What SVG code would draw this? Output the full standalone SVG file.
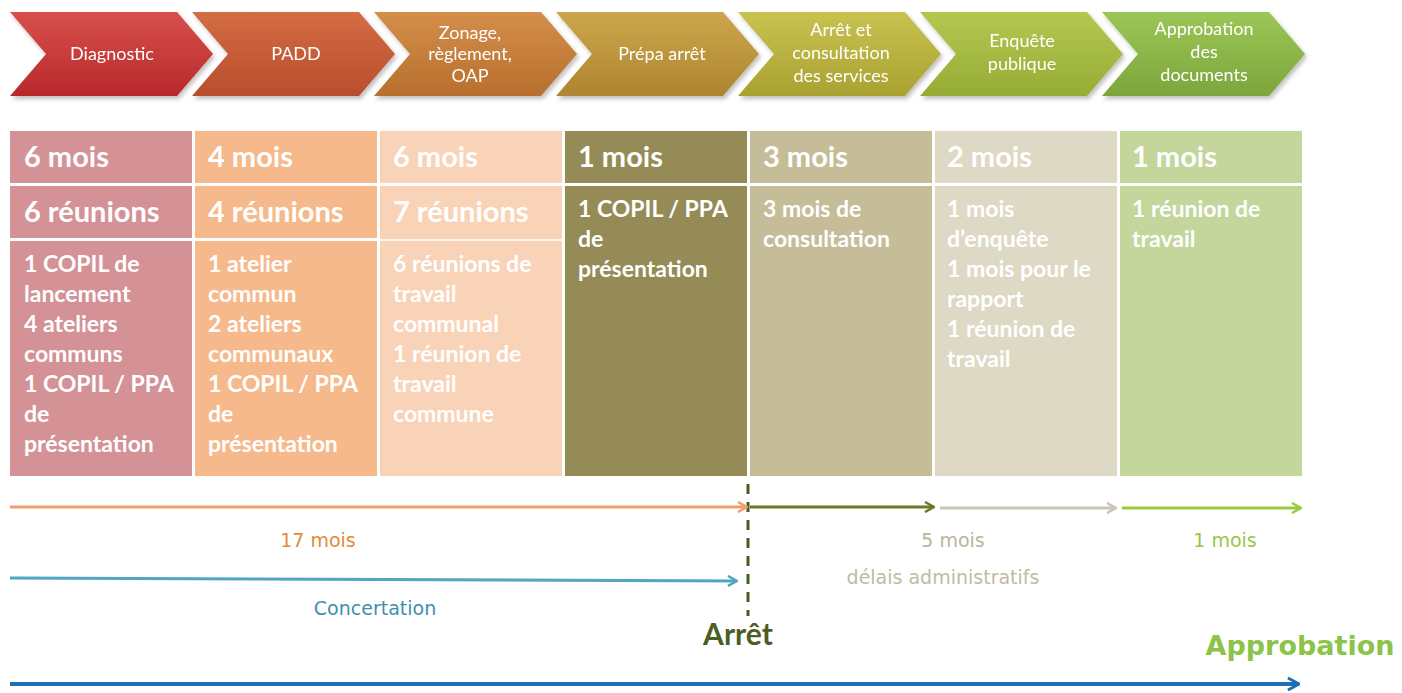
<svg xmlns="http://www.w3.org/2000/svg" width="1402" height="693" viewBox="0 0 1402 693">
<style>
.chev-t{font-family:Lato,"Liberation Sans",sans-serif;font-size:18px;fill:#ffffff;text-anchor:middle}
.hd{font-family:Lato,"Liberation Sans",sans-serif;font-size:29px;font-weight:bold;fill:#ffffff}
.bd{font-family:Lato,"Liberation Sans",sans-serif;font-size:23px;font-weight:bold;fill:#ffffff}
.lbl{font-family:"DejaVu Sans",sans-serif;font-size:19px;text-anchor:middle}
.sep{stroke:#ffffff;stroke-width:3}
</style>
<defs>
<filter id="sh" x="-10%" y="-10%" width="120%" height="130%">
<feDropShadow dx="2" dy="3" stdDeviation="2" flood-color="#000000" flood-opacity="0.25"/>
</filter>
<linearGradient id="g1" x1="0" y1="0" x2="0" y2="1"><stop offset="0" stop-color="#d8504c"/><stop offset="1" stop-color="#b7282b"/></linearGradient>
<linearGradient id="g2" x1="0" y1="0" x2="0" y2="1"><stop offset="0" stop-color="#d46c44"/><stop offset="1" stop-color="#b84e2c"/></linearGradient>
<linearGradient id="g3" x1="0" y1="0" x2="0" y2="1"><stop offset="0" stop-color="#d48e4a"/><stop offset="1" stop-color="#b86f2e"/></linearGradient>
<linearGradient id="g4" x1="0" y1="0" x2="0" y2="1"><stop offset="0" stop-color="#cca64c"/><stop offset="1" stop-color="#ae8530"/></linearGradient>
<linearGradient id="g5" x1="0" y1="0" x2="0" y2="1"><stop offset="0" stop-color="#c8c250"/><stop offset="1" stop-color="#a9a232"/></linearGradient>
<linearGradient id="g6" x1="0" y1="0" x2="0" y2="1"><stop offset="0" stop-color="#b4c850"/><stop offset="1" stop-color="#96ac34"/></linearGradient>
<linearGradient id="g7" x1="0" y1="0" x2="0" y2="1"><stop offset="0" stop-color="#9cc656"/><stop offset="1" stop-color="#7ca63c"/></linearGradient>
<marker id="mOr" viewBox="0 0 12 12" refX="11" refY="6" markerWidth="12" markerHeight="12" markerUnits="userSpaceOnUse" orient="auto"><path d="M2,1 L11,6 L2,11" fill="none" stroke="#f0a06c" stroke-width="2.5" stroke-linejoin="round"/></marker>
<marker id="mOl" viewBox="0 0 12 12" refX="11" refY="6" markerWidth="12" markerHeight="12" markerUnits="userSpaceOnUse" orient="auto"><path d="M2,1 L11,6 L2,11" fill="none" stroke="#6b7a28" stroke-width="2.5" stroke-linejoin="round"/></marker>
<marker id="mGr" viewBox="0 0 12 12" refX="11" refY="6" markerWidth="12" markerHeight="12" markerUnits="userSpaceOnUse" orient="auto"><path d="M2,1 L11,6 L2,11" fill="none" stroke="#c9c5b2" stroke-width="2.5" stroke-linejoin="round"/></marker>
<marker id="mGn" viewBox="0 0 12 12" refX="11" refY="6" markerWidth="12" markerHeight="12" markerUnits="userSpaceOnUse" orient="auto"><path d="M2,1 L11,6 L2,11" fill="none" stroke="#9acb3e" stroke-width="2.5" stroke-linejoin="round"/></marker>
<marker id="mTl" viewBox="0 0 12 12" refX="11" refY="6" markerWidth="12" markerHeight="12" markerUnits="userSpaceOnUse" orient="auto"><path d="M2,1 L11,6 L2,11" fill="none" stroke="#52a6c0" stroke-width="2.5" stroke-linejoin="round"/></marker>
<marker id="mBl" viewBox="0 0 14 14" refX="13" refY="7" markerWidth="14" markerHeight="14" markerUnits="userSpaceOnUse" orient="auto"><path d="M2,1 L13,7 L2,13" fill="none" stroke="#1f6fb6" stroke-width="3" stroke-linejoin="round"/></marker>
</defs>
<rect width="1402" height="693" fill="#ffffff"/>

<g id="chevrons" filter="url(#sh)">
<g id="chev-diagnostic"><polygon points="10,12 177,12 213,54 177,96 10,96 46,54" fill="url(#g1)"/><text class="chev-t" x="112" y="60">Diagnostic</text></g>
<g id="chev-padd"><polygon points="192,12 359,12 395,54 359,96 192,96 228,54" fill="url(#g2)"/><text class="chev-t" x="296" y="60">PADD</text></g>
<g id="chev-zonage"><polygon points="374,12 541,12 577,54 541,96 374,96 410,54" fill="url(#g3)"/><text class="chev-t" x="470" y="39">Zonage,</text><text class="chev-t" x="470" y="60">règlement,</text><text class="chev-t" x="470" y="82">OAP</text></g>
<g id="chev-prepa"><polygon points="556,12 723,12 759,54 723,96 556,96 592,54" fill="url(#g4)"/><text class="chev-t" x="662" y="60">Prépa arrêt</text></g>
<g id="chev-arret"><polygon points="738,12 905,12 941,54 905,96 738,96 774,54" fill="url(#g5)"/><text class="chev-t" x="841" y="36">Arrêt et</text><text class="chev-t" x="841" y="59">consultation</text><text class="chev-t" x="841" y="82">des services</text></g>
<g id="chev-enquete"><polygon points="920,12 1087,12 1123,54 1087,96 920,96 956,54" fill="url(#g6)"/><text class="chev-t" x="1022" y="47">Enquête</text><text class="chev-t" x="1022" y="70">publique</text></g>
<g id="chev-approbation"><polygon points="1102,12 1269,12 1305,54 1269,96 1102,96 1138,54" fill="url(#g7)"/><text class="chev-t" x="1204" y="35">Approbation</text><text class="chev-t" x="1204" y="58">des</text><text class="chev-t" x="1204" y="81">documents</text></g>
</g>

<g id="table">
<g id="col-diagnostic">
<rect x="10" y="131" width="182" height="345" fill="#d49297"/>
<line class="sep" x1="10" y1="184.5" x2="192" y2="184.5"/>
<line class="sep" x1="10" y1="239.5" x2="192" y2="239.5"/>
<text class="hd" x="24" y="167">6 mois</text>
<text class="hd" x="24" y="222">6 réunions</text>
<text class="bd" x="24" y="272">1 COPIL de</text>
<text class="bd" x="24" y="302">lancement</text>
<text class="bd" x="24" y="332">4 ateliers</text>
<text class="bd" x="24" y="362">communs</text>
<text class="bd" x="24" y="392">1 COPIL / PPA</text>
<text class="bd" x="24" y="422">de</text>
<text class="bd" x="24" y="452">présentation</text>
</g>
<g id="col-padd">
<rect x="195" y="131" width="182" height="345" fill="#f6b98b"/>
<line class="sep" x1="195" y1="184.5" x2="377" y2="184.5"/>
<line class="sep" x1="195" y1="239.5" x2="377" y2="239.5"/>
<text class="hd" x="208" y="167">4 mois</text>
<text class="hd" x="208" y="222">4 réunions</text>
<text class="bd" x="208" y="272">1 atelier</text>
<text class="bd" x="208" y="302">commun</text>
<text class="bd" x="208" y="332">2 ateliers</text>
<text class="bd" x="208" y="362">communaux</text>
<text class="bd" x="208" y="392">1 COPIL / PPA</text>
<text class="bd" x="208" y="422">de</text>
<text class="bd" x="208" y="452">présentation</text>
</g>
<g id="col-zonage">
<rect x="380" y="131" width="182" height="345" fill="#f9d3b8"/>
<line class="sep" x1="380" y1="184.5" x2="562" y2="184.5"/>
<line x1="380" y1="240" x2="562" y2="240" stroke="#ffffff" stroke-width="1.5"/>
<text class="hd" x="393" y="167">6 mois</text>
<text class="hd" x="393" y="222">7 réunions</text>
<text class="bd" x="393" y="272">6 réunions de</text>
<text class="bd" x="393" y="302">travail</text>
<text class="bd" x="393" y="332">communal</text>
<text class="bd" x="393" y="362">1 réunion de</text>
<text class="bd" x="393" y="392">travail</text>
<text class="bd" x="393" y="422">commune</text>
</g>
<g id="col-prepa">
<rect x="565" y="131" width="182" height="345" fill="#948b56"/>
<line class="sep" x1="565" y1="184.5" x2="747" y2="184.5"/>
<text class="hd" x="578" y="167">1 mois</text>
<text class="bd" x="578" y="217">1 COPIL / PPA</text>
<text class="bd" x="578" y="247">de</text>
<text class="bd" x="578" y="277">présentation</text>
</g>
<g id="col-arret">
<rect x="750" y="131" width="182" height="345" fill="#c5bd98"/>
<line class="sep" x1="750" y1="184.5" x2="932" y2="184.5"/>
<text class="hd" x="763" y="167">3 mois</text>
<text class="bd" x="763" y="217">3 mois de</text>
<text class="bd" x="763" y="247">consultation</text>
</g>
<g id="col-enquete">
<rect x="935" y="131" width="182" height="345" fill="#ddd9c4"/>
<line class="sep" x1="935" y1="184.5" x2="1117" y2="184.5"/>
<text class="hd" x="947" y="167">2 mois</text>
<text class="bd" x="947" y="217">1 mois</text>
<text class="bd" x="947" y="247">d’enquête</text>
<text class="bd" x="947" y="277">1 mois pour le</text>
<text class="bd" x="947" y="307">rapport</text>
<text class="bd" x="947" y="337">1 réunion de</text>
<text class="bd" x="947" y="367">travail</text>
</g>
<g id="col-approbation">
<rect x="1120" y="131" width="182" height="345" fill="#c4d69c"/>
<line class="sep" x1="1120" y1="184.5" x2="1302" y2="184.5"/>
<text class="hd" x="1132" y="167">1 mois</text>
<text class="bd" x="1132" y="217">1 réunion de</text>
<text class="bd" x="1132" y="247">travail</text>
</g>
</g>

<g id="connectors" fill="none">
<line x1="748" y1="484" x2="748" y2="616" stroke="#4b5c20" stroke-width="3" stroke-dasharray="10 8"/>
<line x1="10" y1="507" x2="747" y2="507" stroke="#f0a06c" stroke-width="3" marker-end="url(#mOr)"/>
<line x1="750" y1="507" x2="934" y2="507" stroke="#6b7a28" stroke-width="3" marker-end="url(#mOl)"/>
<line x1="940" y1="508" x2="1116" y2="508" stroke="#c9c5b2" stroke-width="3" marker-end="url(#mGr)"/>
<line x1="1122" y1="508" x2="1301" y2="508" stroke="#9acb3e" stroke-width="3" marker-end="url(#mGn)"/>
<line x1="10" y1="578" x2="737" y2="581" stroke="#52a6c0" stroke-width="3" marker-end="url(#mTl)"/>
<line x1="10" y1="684" x2="1299" y2="684" stroke="#1f6fb6" stroke-width="4" marker-end="url(#mBl)"/>
</g>

<g id="labels">
<text class="lbl" x="318" y="547" fill="#e58a3a">17 mois</text>
<text class="lbl" x="953" y="547" fill="#bab59b">5 mois</text>
<text class="lbl" x="1225" y="547" fill="#98c64c">1 mois</text>
<text class="lbl" x="943" y="584" fill="#c0bba5">délais administratifs</text>
<text class="lbl" x="375" y="615" fill="#3f90ab">Concertation</text>
<text x="738" y="645" font-family="Lato,'Liberation Sans',sans-serif" font-size="30" font-weight="bold" fill="#4d5e23" text-anchor="middle">Arrêt</text>
<text x="1300" y="655" font-family="'DejaVu Sans',sans-serif" font-size="27" font-weight="bold" fill="#8cc44a" text-anchor="middle">Approbation</text>
</g>
</svg>
